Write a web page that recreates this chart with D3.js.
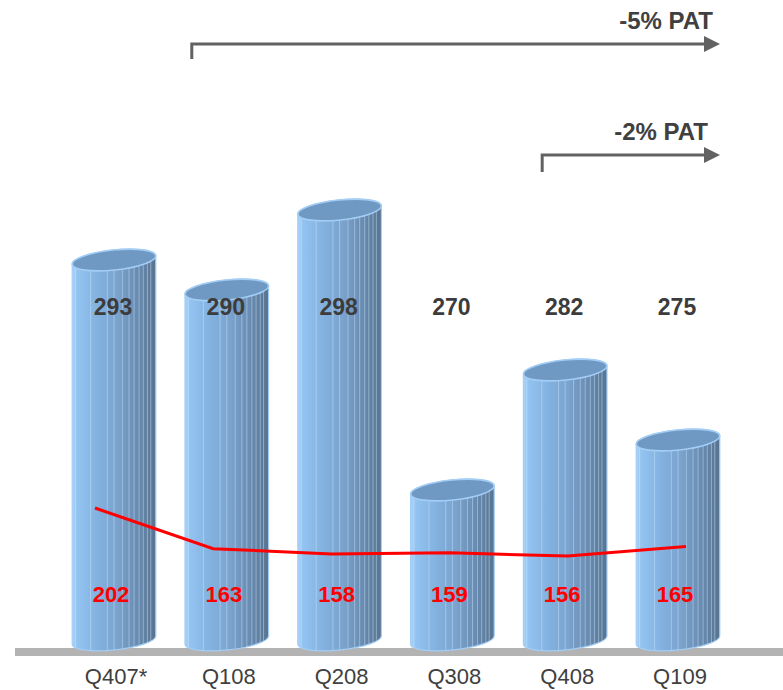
<!DOCTYPE html>
<html><head><meta charset="utf-8">
<script src="https://cdn.jsdelivr.net/npm/d3@7"></script>
<style>
html,body{margin:0;padding:0;background:#fff;}
svg{display:block;font-family:"Liberation Sans",Arial,sans-serif;}
</style></head>
<body><svg id="chart" width="783" height="690"></svg>
<script>
// ---- data ----
const categories = ["Q407*","Q108","Q208","Q308","Q408","Q109"];
const revenue = [293,290,298,270,282,275];
const pat = [202,163,158,159,156,165];
const arrowLabels = ["-5% PAT","-2% PAT"];
const arrowStartCats = ["Q108","Q408"];
const arrowEndCat = "Q109";

// ---- layout ----
const W = 783, H = 690;
const svg = d3.select("#chart");
const defs = svg.append("defs");

const x = d3.scaleBand().domain(categories).range([57.6, 734.4]).paddingInner(0.255).paddingOuter(0.1275);
const y = d3.scaleLinear().domain([255, 300]).range([640, 190]);
const yPat = d3.scaleLinear().domain([156, 202]).range([556, 508]);
const xLine = d3.scalePoint().domain(categories).range([95, 686]);

const bw = x.bandwidth();
const rx = bw / 2, ry = 10, rot = -6;
const th = rot * Math.PI / 180;

// gradient for the body
const grad = defs.append("linearGradient").attr("id","bodyGrad").attr("x1","0").attr("x2","1").attr("y1","0").attr("y2","0");
[[0,"#a9d3fb"],[0.06,"#93c3f0"],[0.3,"#83b2e0"],[0.55,"#7aa2cc"],[0.8,"#6789ae"],[1,"#57738f"]]
  .forEach(([o,c]) => grad.append("stop").attr("offset",o).attr("stop-color",c));

// baseline bar
svg.append("rect").attr("x",15).attr("y",648).attr("width",W-15).attr("height",8).attr("fill","#b3b3b3");

const yBase = y.range()[0];

categories.forEach((c, i) => {
  const cx = x(c) + bw / 2;
  const yt = y(revenue[i]);
  const dx = rx * Math.cos(th), dy = rx * Math.sin(th);
  const pL = (cy) => [cx - dx, cy - dy];
  const pR = (cy) => [cx + dx, cy + dy];
  const [lx, lyt] = pL(yt), [rxx, ryt] = pR(yt);
  const [, lyb] = pL(yBase), [, ryb] = pR(yBase);
  const body = `M${lx},${lyt} L${lx},${lyb} A${rx},${ry} ${rot} 0 0 ${rxx},${ryb} L${rxx},${ryt} A${rx},${ry} ${rot} 0 0 ${lx},${lyt} Z`;
  const cid = "clip" + i;
  defs.append("clipPath").attr("id", cid).append("path").attr("d", body);
  const g = svg.append("g");
  g.append("path").attr("d", body).attr("fill", "url(#bodyGrad)");
  // facets
  const facets = [0.04,0.22,0.42,0.5,0.6,0.68,0.74,0.8,0.85,0.9,0.94];
  const fg = g.append("g").attr("clip-path", `url(#${cid})`);
  facets.forEach(f => {
    const fx = lx + f * (rxx - lx);
    fg.append("line").attr("x1", fx).attr("x2", fx).attr("y1", yt - 20).attr("y2", yBase + 20)
      .attr("stroke", "#cfe6fb").attr("stroke-opacity", 0.45).attr("stroke-width", 1);
  });
  g.append("path").attr("d", body).attr("fill", "none").attr("stroke", "#a3cdf5").attr("stroke-width", 1.2);
  // top face
  g.append("ellipse").attr("cx", cx).attr("cy", yt).attr("rx", rx).attr("ry", ry)
    .attr("transform", `rotate(${rot},${cx},${yt})`)
    .attr("fill", "#6f99c3").attr("stroke", "#a3cdf5").attr("stroke-width", 1.6);
});

// red line
svg.append("path")
  .datum(pat)
  .attr("d", d3.line().x((d, i) => xLine(categories[i])).y(d => yPat(d)))
  .attr("fill", "none").attr("stroke", "#ff0000").attr("stroke-width", 3);

// value labels
svg.selectAll(".rev").data(revenue).enter().append("text")
  .attr("x", (d, i) => x(categories[i]) + bw / 2 - 1).attr("y", 315)
  .attr("text-anchor", "middle").attr("font-size", 23).attr("font-weight", "bold").attr("fill", "#3c3c3c")
  .text(d => d);
svg.selectAll(".pat").data(pat).enter().append("text")
  .attr("x", (d, i) => x(categories[i]) + bw / 2 - 3).attr("y", 602)
  .attr("text-anchor", "middle").attr("font-size", 22).attr("font-weight", "bold").attr("fill", "#ff0000")
  .text(d => d);

// category axis labels
const xAxis = d3.axisBottom(x).tickSize(0).tickPadding(0);
const ax = svg.append("g").attr("transform", "translate(2,667)").call(xAxis);
ax.select(".domain").remove();
ax.selectAll("text").attr("font-size", 22).attr("fill", "#404040").attr("font-family", '"Liberation Sans",Arial,sans-serif').attr("dy", "0.75em");

// arrows
const arrowY = [44, 155], arrowDrop = [15, 17], arrowStartOff = [7, 19], textY = [29, 140], textRight = [713, 708];
const xEnd = x(arrowEndCat) + bw;
arrowLabels.forEach((lab, i) => {
  const x0 = x(arrowStartCats[i]) + arrowStartOff[i];
  const yy = arrowY[i];
  svg.append("path").attr("d", `M${x0},${yy + arrowDrop[i]} L${x0},${yy} L${xEnd - 15},${yy}`)
    .attr("fill", "none").attr("stroke", "#626262").attr("stroke-width", 3);
  svg.append("path").attr("d", `M${xEnd - 16},${yy - 8} L${xEnd},${yy} L${xEnd - 16},${yy + 8} Z`).attr("fill", "#626262");
  svg.append("text").attr("x", textRight[i]).attr("y", textY[i]).attr("text-anchor", "end")
    .attr("font-size", 24).attr("font-weight", "bold").attr("fill", "#404040").text(lab);
});
</script></body></html>
